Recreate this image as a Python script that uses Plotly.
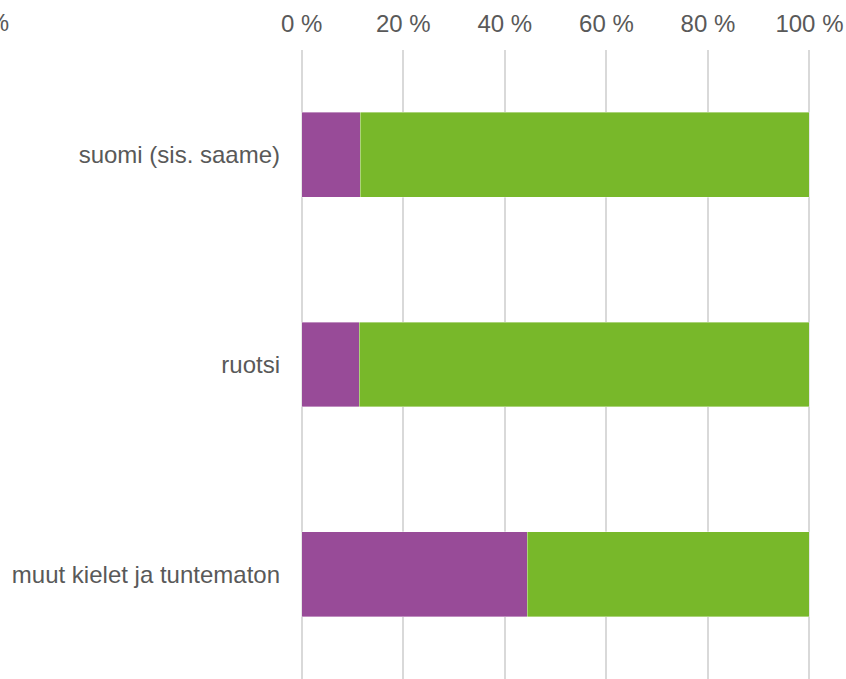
import plotly.graph_objects as go

categories = ["suomi (sis. saame)", "ruotsi", "muut kielet ja tuntematon"]
series1_name = "Sarja 1"
series2_name = "Sarja 2"
series1 = [11.5, 11.3, 44.4]
series2 = [100 - v for v in series1]
tick_vals = [0, 20, 40, 60, 80, 100]
tick_text = ["0 %", "20 %", "40 %", "60 %", "80 %", "100 %"]

PURPLE = "#984B98"
GREEN = "#78B82A"
TXT = "#595959"
GRID = "#D9D9D9"
FS = 24

fig = go.Figure()
fig.add_trace(go.Bar(y=categories, x=series1, name=series1_name, orientation="h",
                     marker=dict(color=PURPLE, line=dict(color="rgba(255,255,255,0.5)", width=0.75))))
fig.add_trace(go.Bar(y=categories, x=series2, name=series2_name, orientation="h",
                     marker=dict(color=GREEN, line=dict(color="rgba(255,255,255,0.5)", width=0.75))))

L, R, T, B = 301, 34, 50, 0
fig.update_layout(
    barmode="stack",
    bargap=0.595,
    width=846, height=679,
    margin=dict(l=L, r=R, t=T, b=B),
    plot_bgcolor="white", paper_bgcolor="white",
    showlegend=False,
    font=dict(family="Liberation Sans, Arial, sans-serif", size=FS, color=TXT),
)
fig.update_xaxes(
    side="top", range=[-0.15, 100.5], tickvals=tick_vals, ticktext=tick_text,
    showgrid=True, gridcolor=GRID, gridwidth=1.5,
    zeroline=True, zerolinecolor=GRID, zerolinewidth=1.5,
    showline=False, ticks="", ticklabelstandoff=12,
    tickfont=dict(size=FS, color=TXT),
)
fig.update_yaxes(
    categoryorder="array", categoryarray=categories, autorange="reversed",
    showgrid=False, zeroline=False, showline=False, ticks="",
    ticklabelstandoff=20, tickfont=dict(size=FS, color=TXT),
)
# partially visible tick label of a neighbouring panel at the far left edge
fig.add_annotation(text="100 %", xref="paper", yref="paper",
                   x=(11 - L) / (846 - L - R), y=1, xanchor="right", yanchor="bottom",
                   yshift=12, showarrow=False, font=dict(size=FS, color=TXT))

fig.write_html("out.html", config={"displayModeBar": False},
               post_script="document.body.style.margin='0';document.body.style.overflow='hidden';")
